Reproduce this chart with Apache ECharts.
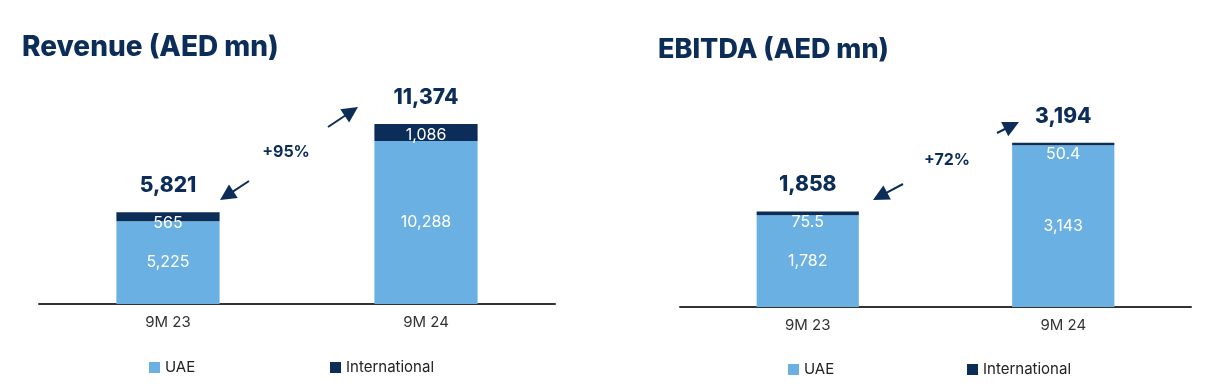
<!DOCTYPE html>
<html>
<head>
<meta charset="utf-8">
<script src="https://cdn.jsdelivr.net/npm/echarts@6/dist/echarts.min.js"></script>
<style>
html,body{margin:0;padding:0;background:#fff;}
#chart{width:1224px;height:391px;}
</style>
</head>
<body>
<div id="chart"></div>
<script>
const categories = ['9M 23', '9M 24'];
const revenueUAE = [5225, 10288];
const revenueIntl = [565, 1086];
const revenueTotal = [5821, 11374];
const ebitdaUAE = [1782, 3143];
const ebitdaIntl = [75.5, 50.4];
const ebitdaTotal = [1858, 3194];
const titles = ['Revenue (AED mn)', 'EBITDA (AED mn)'];
const growthLabels = ['+95%', '+72%'];
const legendNames = ['UAE', 'International'];

const NAVY = '#0b2d58';
const LIGHT = '#6bb0e3';
const FONT = 'Inter, "Noto Sans", sans-serif';

const fmt = v => Number(v).toLocaleString('en-US');

function arrow(x1, y1, x2, y2) {
  const dx = x2 - x1, dy = y2 - y1;
  const len = Math.sqrt(dx * dx + dy * dy);
  const ux = dx / len, uy = dy / len;
  const L = 16, W = 8;
  const bx = x2 - ux * L, by = y2 - uy * L;
  const px = -uy, py = ux;
  return {
    type: 'group',
    children: [
      { type: 'line', shape: { x1: x1, y1: y1, x2: bx + ux * 2, y2: by + uy * 2 }, style: { stroke: NAVY, lineWidth: 2 } },
      { type: 'polygon', shape: { points: [[x2, y2], [bx + px * W, by + py * W], [bx - px * W, by - py * W]] }, style: { fill: NAVY } }
    ]
  };
}

const chart = echarts.init(document.getElementById('chart'), null, { renderer: 'canvas' });

const labelUAE = { show: true, position: 'inside', color: '#ffffff', fontSize: 16, fontFamily: FONT, formatter: p => fmt(p.value) };
const labelIntl = { show: true, position: 'insideTop', distance: 3, color: '#ffffff', fontSize: 16, fontFamily: FONT, formatter: p => fmt(p.value) };
const labelTotal = { show: true, position: 'top', distance: 16, color: NAVY, fontSize: 21, fontWeight: 800, fontFamily: FONT, formatter: p => fmt(p.value) };

function xAxis(gridIndex) {
  return {
    type: 'category', gridIndex: gridIndex, data: categories,
    axisLine: { lineStyle: { color: '#333', width: 2 } },
    axisTick: { show: false },
    axisLabel: { color: '#333', fontSize: 15, fontFamily: FONT, margin: 11 }
  };
}
function yAxis(gridIndex, max) {
  return { type: 'value', gridIndex: gridIndex, min: 0, max: max, show: false, splitLine: { show: false } };
}
function legend(name, left, top) {
  return {
    data: [name], left: left, top: top, icon: 'rect', itemWidth: 11, itemHeight: 11, itemGap: 5,
    textStyle: { color: '#222', fontSize: 15, fontFamily: FONT }, selectedMode: false
  };
}

const option = {
  backgroundColor: '#ffffff',
  animation: false,
  title: [
    { text: titles[0], left: 17, top: 29, textStyle: { color: NAVY, fontSize: 28, fontWeight: 800, fontFamily: FONT } },
    { text: titles[1], left: 653, top: 31, textStyle: { color: NAVY, fontSize: 27, fontWeight: 800, fontFamily: FONT } }
  ],
  grid: [
    { left: 39, right: 669, top: 114, bottom: 87 },
    { left: 680, right: 33, top: 127, bottom: 84 }
  ],
  xAxis: [xAxis(0), xAxis(1)],
  yAxis: [yAxis(0, 12000), yAxis(1, 3500)],
  legend: [
    legend(legendNames[0], 144, 355),
    legend(legendNames[1], 325, 355),
    legend(legendNames[0], 783, 357),
    legend(legendNames[1], 962, 357)
  ],
  series: [
    { name: 'UAE', type: 'bar', xAxisIndex: 0, yAxisIndex: 0, stack: 'rev', barWidth: '40%', data: revenueUAE, itemStyle: { color: LIGHT }, label: labelUAE },
    { name: 'International', type: 'bar', xAxisIndex: 0, yAxisIndex: 0, stack: 'rev', barWidth: '40%', data: revenueIntl, itemStyle: { color: NAVY }, label: labelIntl },
    { name: 'RevTotal', type: 'scatter', xAxisIndex: 0, yAxisIndex: 0, symbolSize: 0, itemStyle: { opacity: 1, color: NAVY }, data: revenueTotal, label: labelTotal, silent: true },
    { name: 'UAE', type: 'bar', xAxisIndex: 1, yAxisIndex: 1, stack: 'ebitda', barWidth: '40%', data: ebitdaUAE, itemStyle: { color: LIGHT }, label: labelUAE },
    { name: 'International', type: 'bar', xAxisIndex: 1, yAxisIndex: 1, stack: 'ebitda', barWidth: '40%', data: ebitdaIntl, itemStyle: { color: NAVY }, label: labelIntl },
    { name: 'EbitdaTotal', type: 'scatter', xAxisIndex: 1, yAxisIndex: 1, symbolSize: 0, itemStyle: { opacity: 1, color: NAVY }, data: ebitdaTotal, label: labelTotal, silent: true }
  ],
  graphic: [
    arrow(249, 181, 220, 200),
    arrow(328, 127, 358, 107),
    arrow(903, 184, 873, 200),
    arrow(997, 133, 1019, 122),
    { type: 'text', x: 286, y: 152, style: { text: growthLabels[0], fill: NAVY, font: 'bold 16px ' + FONT, textAlign: 'center', textVerticalAlign: 'middle' } },
    { type: 'text', x: 947, y: 160, style: { text: growthLabels[1], fill: NAVY, font: 'bold 16px ' + FONT, textAlign: 'center', textVerticalAlign: 'middle' } }
  ]
};
chart.setOption(option);
</script>
</body>
</html>
